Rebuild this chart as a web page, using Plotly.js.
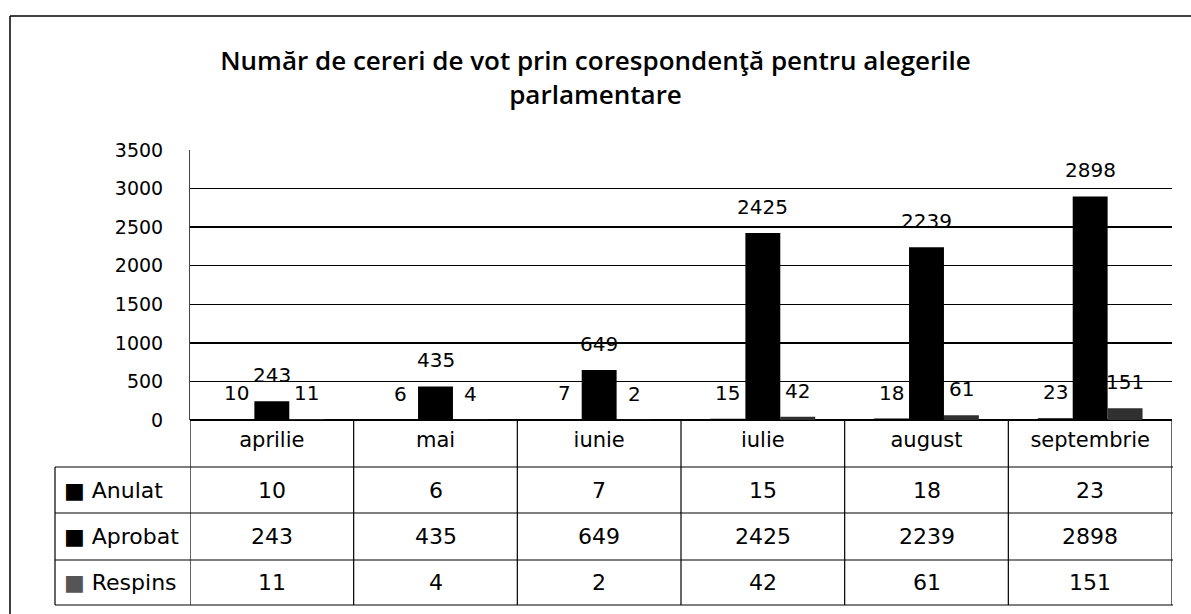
<!DOCTYPE html>
<html>
<head>
<meta charset="utf-8">
<script src="https://cdn.plot.ly/plotly-3.0.1.min.js"></script>
<style>html,body{margin:0;padding:0;background:#fff;}#chart{width:1191px;height:614px;}</style>
</head>
<body>
<div id="chart"></div>
<script>
const months = ["aprilie", "mai", "iunie", "iulie", "august", "septembrie"];
const seriesNames = ["Anulat", "Aprobat", "Respins"];
const anulat = [10, 6, 7, 15, 18, 23];
const aprobat = [243, 435, 649, 2425, 2239, 2898];
const respins = [11, 4, 2, 42, 61, 151];
const yTicks = [0, 500, 1000, 1500, 2000, 2500, 3000, 3500];

const seriesValues = [anulat, aprobat, respins];
const seriesColors = ["#000000", "#000000", "#303030"];
const swatchColors = ["#000000", "#000000", "#555555"];
const FONT = "DejaVu Sans, sans-serif";

const traces = seriesNames.map((name, i) => ({
  type: "bar",
  name: name,
  x: months,
  y: seriesValues[i],
  marker: {color: seriesColors[i], line: {width: 0}},
  hoverinfo: "x+y+name"
}));

// pixel helpers: plot area 190..1172 (x), 150..420 (y)
const L = 190, R = 1172, T = 150, B = 420;
const px = v => (v - L) / (R - L);
const py = v => (B - v) / (B - T);

const annotations = [];
// data labels above bars
const offsets = [-35, 0, 35];
seriesValues.forEach((vals, i) => {
  vals.forEach((v, j) => {
    annotations.push({
      x: months[j], y: v, xref: "x", yref: "y",
      text: String(v), showarrow: false,
      xshift: offsets[i], yshift: 26,
      xanchor: "center", yanchor: "middle",
      font: {family: FONT, size: 20, color: "#000"}
    });
  });
});

// table rows
const rowLines = [467, 513, 560, 605];
const rowCenters = [490, 536.5, 582.5];
seriesValues.forEach((vals, i) => {
  annotations.push({
    x: px(62), y: py(rowCenters[i]), xref: "paper", yref: "paper",
    text: "<span style='color:" + swatchColors[i] + "'>■</span> " + seriesNames[i],
    showarrow: false, xanchor: "left", yanchor: "middle",
    font: {family: FONT, size: 22, color: "#000"}
  });
  vals.forEach((v, j) => {
    annotations.push({
      x: months[j], y: py(rowCenters[i]), xref: "x", yref: "paper",
      text: String(v), showarrow: false, xanchor: "center", yanchor: "middle",
      font: {family: FONT, size: 22, color: "#000"}
    });
  });
});

const shapes = [];
const lineStyle = {color: "#000", width: 1.2};
// horizontal table lines
rowLines.forEach((ry) => {
  shapes.push({type: "line", xref: "paper", yref: "paper",
    x0: px(55), x1: px(1173), y0: py(ry), y1: py(ry), line: lineStyle});
});
// vertical lines at category boundaries
for (let j = 0; j <= months.length; j++) {
  shapes.push({type: "line", xref: "x", yref: "paper",
    x0: j - 0.5, x1: j - 0.5, y0: py(B), y1: py(605), line: lineStyle});
}
// label column left edge
shapes.push({type: "line", xref: "paper", yref: "paper",
  x0: px(55), x1: px(55), y0: py(467), y1: py(605), line: lineStyle});
// outer frame (top and left)
shapes.push({type: "line", xref: "paper", yref: "paper",
  x0: px(10), x1: px(1195), y0: py(16), y1: py(16), line: {color: "#000", width: 1.5}});
shapes.push({type: "line", xref: "paper", yref: "paper",
  x0: px(10), x1: px(10), y0: py(16), y1: py(616), line: {color: "#000", width: 1.5}});

const layout = {
  width: 1191, height: 614,
  margin: {l: L, r: 1191 - R, t: T, b: 614 - B},
  paper_bgcolor: "#fff", plot_bgcolor: "#fff",
  showlegend: false,
  barmode: "group",
  bargap: 0.36, bargroupgap: 0,
  title: {
    text: "Număr de cereri de vot prin corespondenţă pentru alegerile<br>parlamentare",
    x: 0.5, xref: "container", xanchor: "center",
    y: 1 - 70 / 614, yref: "container", yanchor: "middle",
    font: {family: "Open Sans, sans-serif", size: 26, weight: 600, color: "#000"}
  },
  xaxis: {
    type: "category",
    categoryorder: "array", categoryarray: months,
    showgrid: false, zeroline: false, showline: false,
    ticks: "", ticklabelstandoff: 5,
    tickfont: {family: FONT, size: 21, color: "#000"},
    range: [-0.5, months.length - 0.5]
  },
  yaxis: {
    range: [0, 3500], tickvals: yTicks,
    showgrid: true, gridcolor: "#000", gridwidth: 1.3,
    zeroline: true, zerolinecolor: "#000", zerolinewidth: 2,
    showline: true, linecolor: "#444", linewidth: 1,
    ticks: "", ticklabelstandoff: 22,
    tickfont: {family: FONT, size: 19, color: "#000"}
  },
  annotations: annotations,
  shapes: shapes
};

Plotly.newPlot("chart", traces, layout, {displayModeBar: false, staticPlot: true});
</script>
</body>
</html>
